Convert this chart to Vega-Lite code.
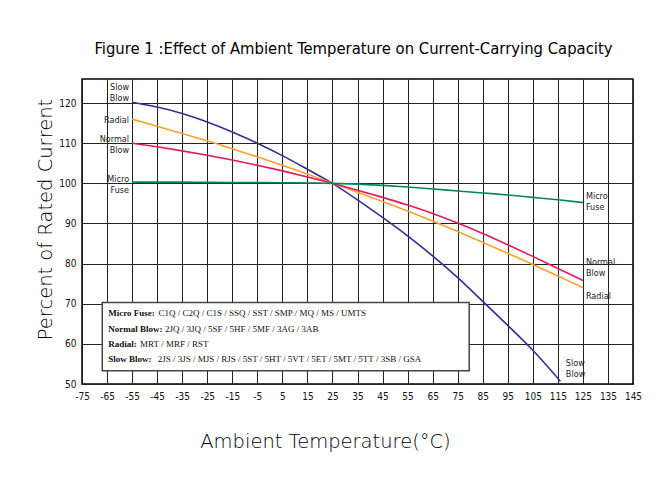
{
  "$schema": "https://vega.github.io/schema/vega-lite/v6.json",
  "width": 551,
  "height": 305,
  "autosize": {"type": "none"},
  "padding": {"left": 82, "top": 79, "right": 31, "bottom": 109},
  "background": "white",
  "config": {"view": {"stroke": "#000", "strokeWidth": 1.5}},
  "title": {
    "text": "Figure 1 :Effect of Ambient Temperature on Current-Carrying Capacity",
    "font": "DejaVu Sans Condensed, sans-serif",
    "fontSize": 16.5,
    "fontWeight": "normal",
    "color": "#000",
    "anchor": "middle",
    "offset": 22,
    "dx": -4
  },
  "datasets": {
    "curves": [
      {"s": "Slow Blow", "t": -55, "v": 120.2}, {"s": "Slow Blow", "t": -45, "v": 119.0}, {"s": "Slow Blow", "t": -35, "v": 117.4},
      {"s": "Slow Blow", "t": -25, "v": 115.3}, {"s": "Slow Blow", "t": -15, "v": 112.8}, {"s": "Slow Blow", "t": -5, "v": 110.0},
      {"s": "Slow Blow", "t": 5, "v": 106.9}, {"s": "Slow Blow", "t": 15, "v": 103.5}, {"s": "Slow Blow", "t": 25, "v": 100},
      {"s": "Slow Blow", "t": 35, "v": 95.9}, {"s": "Slow Blow", "t": 45, "v": 91.5}, {"s": "Slow Blow", "t": 55, "v": 86.9},
      {"s": "Slow Blow", "t": 65, "v": 81.9}, {"s": "Slow Blow", "t": 75, "v": 76.5}, {"s": "Slow Blow", "t": 85, "v": 70.6},
      {"s": "Slow Blow", "t": 95, "v": 64.6}, {"s": "Slow Blow", "t": 105, "v": 58.4}, {"s": "Slow Blow", "t": 116, "v": 50.7},
      {"s": "Radial", "t": -55, "v": 116}, {"s": "Radial", "t": -45, "v": 114.2}, {"s": "Radial", "t": -35, "v": 112.4},
      {"s": "Radial", "t": -25, "v": 110.6}, {"s": "Radial", "t": -15, "v": 108.6}, {"s": "Radial", "t": -5, "v": 106.6},
      {"s": "Radial", "t": 5, "v": 104.5}, {"s": "Radial", "t": 15, "v": 102.3}, {"s": "Radial", "t": 25, "v": 100},
      {"s": "Radial", "t": 35, "v": 97.8}, {"s": "Radial", "t": 45, "v": 95.5}, {"s": "Radial", "t": 55, "v": 93.1},
      {"s": "Radial", "t": 65, "v": 90.6}, {"s": "Radial", "t": 75, "v": 88.0}, {"s": "Radial", "t": 85, "v": 85.3},
      {"s": "Radial", "t": 95, "v": 82.6}, {"s": "Radial", "t": 105, "v": 79.8}, {"s": "Radial", "t": 115, "v": 76.9},
      {"s": "Radial", "t": 125, "v": 74},
      {"s": "Normal Blow", "t": -55, "v": 110}, {"s": "Normal Blow", "t": -45, "v": 109.1}, {"s": "Normal Blow", "t": -35, "v": 108.1},
      {"s": "Normal Blow", "t": -25, "v": 107.0}, {"s": "Normal Blow", "t": -15, "v": 105.8}, {"s": "Normal Blow", "t": -5, "v": 104.5},
      {"s": "Normal Blow", "t": 5, "v": 103.1}, {"s": "Normal Blow", "t": 15, "v": 101.6}, {"s": "Normal Blow", "t": 25, "v": 100},
      {"s": "Normal Blow", "t": 35, "v": 98.3}, {"s": "Normal Blow", "t": 45, "v": 96.5}, {"s": "Normal Blow", "t": 55, "v": 94.6},
      {"s": "Normal Blow", "t": 65, "v": 92.5}, {"s": "Normal Blow", "t": 75, "v": 90.1}, {"s": "Normal Blow", "t": 85, "v": 87.5},
      {"s": "Normal Blow", "t": 95, "v": 84.7}, {"s": "Normal Blow", "t": 105, "v": 81.8}, {"s": "Normal Blow", "t": 115, "v": 78.8},
      {"s": "Normal Blow", "t": 125, "v": 75.8},
      {"s": "Micro Fuse", "t": -55, "v": 100.3}, {"s": "Micro Fuse", "t": -45, "v": 100.3}, {"s": "Micro Fuse", "t": -35, "v": 100.3},
      {"s": "Micro Fuse", "t": -25, "v": 100.25}, {"s": "Micro Fuse", "t": -15, "v": 100.2}, {"s": "Micro Fuse", "t": -5, "v": 100.2},
      {"s": "Micro Fuse", "t": 5, "v": 100.15}, {"s": "Micro Fuse", "t": 15, "v": 100.1}, {"s": "Micro Fuse", "t": 25, "v": 100},
      {"s": "Micro Fuse", "t": 35, "v": 99.8}, {"s": "Micro Fuse", "t": 45, "v": 99.5}, {"s": "Micro Fuse", "t": 55, "v": 99.1},
      {"s": "Micro Fuse", "t": 65, "v": 98.6}, {"s": "Micro Fuse", "t": 75, "v": 98.1}, {"s": "Micro Fuse", "t": 85, "v": 97.6},
      {"s": "Micro Fuse", "t": 95, "v": 97.1}, {"s": "Micro Fuse", "t": 105, "v": 96.5}, {"s": "Micro Fuse", "t": 115, "v": 95.9},
      {"s": "Micro Fuse", "t": 125, "v": 95.2}
    ],
    "labels": [
      {"side": "L", "t": -55, "v": 124.1, "text": "Slow\nBlow"},
      {"side": "L", "t": -55, "v": 115.9, "text": "Radial"},
      {"side": "L", "t": -55, "v": 111.0, "text": "Normal\nBlow"},
      {"side": "L", "t": -55, "v": 101.0, "text": "Micro\nFuse"},
      {"side": "R", "t": 125, "v": 96.8, "text": "Micro\nFuse"},
      {"side": "R", "t": 125, "v": 80.3, "text": "Normal\nBlow"},
      {"side": "R", "t": 125, "v": 71.9, "text": "Radial"},
      {"side": "R", "t": 117, "v": 55.3, "text": "Slow\nBlow"}
    ],
    "box": [{"t": -66.9, "t2": 79.6, "v": 70.3, "v2": 53.3}],
    "legend": [
      {"kind": "b", "t": -64.5, "v": 67.6, "text": "Micro Fuse:"},
      {"kind": "b", "t": -64.5, "v": 63.7, "text": "Normal Blow:"},
      {"kind": "b", "t": -64.5, "v": 60.0, "text": "Radial:"},
      {"kind": "b", "t": -64.5, "v": 56.2, "text": "Slow Blow:"},
      {"kind": "c", "t": -44.5, "v": 67.6, "text": "C1Q /  C2Q / C1S / SSQ /  SST /  SMP / MQ /  MS / UMTS"},
      {"kind": "c", "t": -41.9, "v": 63.7, "text": "2JQ / 3JQ / 5SF / 5HF / 5MF / 3AG / 3AB"},
      {"kind": "c", "t": -51.8, "v": 60.0, "text": "MRT / MRF / RST"},
      {"kind": "c", "t": -44.8, "v": 56.2, "text": "2JS / 3JS / MJS / RJS / 5ST / 5HT / 5VT / 5ET / 5MT / 5TT / 3SB / GSA"}
    ]
  },
  "encoding": {
    "x": {
      "field": "t",
      "type": "quantitative",
      "scale": {"domain": [-75, 145], "nice": false, "zero": false},
      "axis": {
        "values": [-75, -65, -55, -45, -35, -25, -15, -5, 5, 15, 25, 35, 45, 55, 65, 75, 85, 95, 105, 115, 125, 135, 145],
        "labelExpr": "datum.value < 0 ? '-' + abs(datum.value) : '' + datum.value",
        "grid": true, "gridColor": "#222", "gridWidth": 1, "gridOpacity": 1,
        "ticks": false, "domain": false,
        "labelFont": "DejaVu Sans Condensed, sans-serif",
        "labelFontSize": 10, "labelColor": "#111", "labelPadding": 7,
        "labelFlush": false, "labelOverlap": false,
        "title": "Ambient Temperature(°C)",
        "titleFont": "DejaVu Sans", "titleFontSize": 19.5, "titleFontWeight": 200, "titleColor": "#000",
        "titleX": 243, "titleY": 57, "titleBaseline": "middle", "titleAlign": "center"
      }
    },
    "y": {
      "field": "v",
      "type": "quantitative",
      "scale": {"domain": [50, 126], "nice": false, "zero": false},
      "axis": {
        "values": [50, 60, 70, 80, 90, 100, 110, 120],
        "grid": true, "gridColor": "#222", "gridWidth": 1, "gridOpacity": 1,
        "ticks": false, "domain": false,
        "labelFont": "DejaVu Sans Condensed, sans-serif",
        "labelFontSize": 10, "labelColor": "#111", "labelPadding": 6,
        "title": "Percent of Rated Current",
        "titleFont": "DejaVu Sans", "titleFontSize": 19.5, "titleFontWeight": 200, "titleColor": "#000",
        "titleX": -37, "titleY": 140, "titleBaseline": "middle", "titleAlign": "center", "titleAngle": 270
      }
    }
  },
  "layer": [
    {
      "data": {"name": "curves"},
      "mark": {"type": "line", "interpolate": "monotone", "strokeWidth": 1.6},
      "encoding": {
        "color": {
          "field": "s", "type": "nominal",
          "scale": {"domain": ["Slow Blow", "Radial", "Normal Blow", "Micro Fuse"], "range": ["#2e3192", "#f9a12e", "#e8175d", "#00875a"]},
          "legend": null
        }
      }
    },
    {
      "data": {"name": "box"},
      "mark": {"type": "rect", "fill": "white", "stroke": "#444", "strokeWidth": 1.5},
      "encoding": {"x2": {"field": "t2"}, "y2": {"field": "v2"}}
    },
    {
      "data": {"name": "legend"},
      "transform": [{"filter": "datum.kind === 'b'"}],
      "mark": {"type": "text", "align": "left", "baseline": "middle", "font": "Liberation Serif", "fontSize": 9, "fontWeight": "bold", "color": "#111"},
      "encoding": {"text": {"field": "text"}}
    },
    {
      "data": {"name": "legend"},
      "transform": [{"filter": "datum.kind === 'c'"}],
      "mark": {"type": "text", "align": "left", "baseline": "middle", "font": "Liberation Serif", "fontSize": 9, "color": "#111"},
      "encoding": {"text": {"field": "text"}}
    },
    {
      "data": {"name": "labels"},
      "transform": [{"filter": "datum.side === 'L'"}],
      "mark": {"type": "text", "align": "right", "baseline": "middle", "dx": -3, "lineBreak": "\n", "lineHeight": 11, "font": "DejaVu Sans Condensed, sans-serif", "fontSize": 9, "color": "#222"},
      "encoding": {"text": {"field": "text"}}
    },
    {
      "data": {"name": "labels"},
      "transform": [{"filter": "datum.side === 'R'"}],
      "mark": {"type": "text", "align": "left", "baseline": "middle", "dx": 3, "lineBreak": "\n", "lineHeight": 11, "font": "DejaVu Sans Condensed, sans-serif", "fontSize": 9, "color": "#222"},
      "encoding": {"text": {"field": "text"}}
    }
  ]
}
